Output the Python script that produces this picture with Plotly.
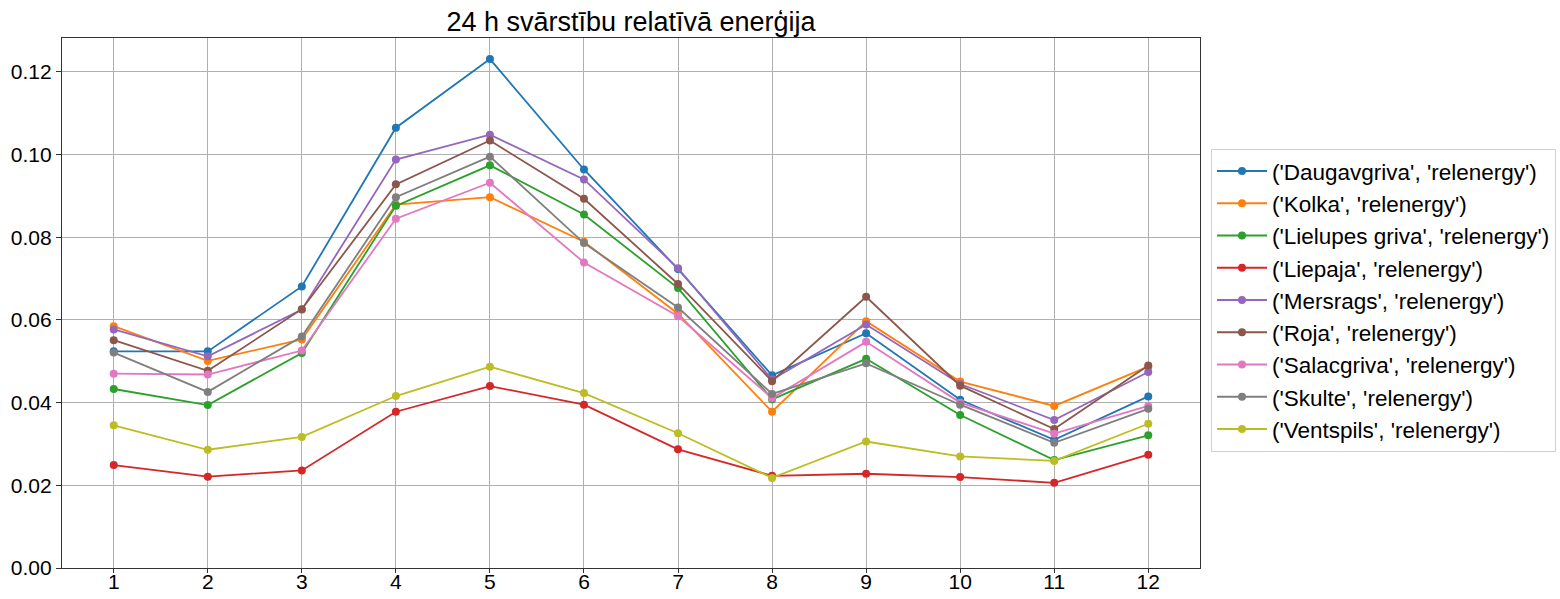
import plotly.graph_objects as go

months = list(range(1, 13))

stations = ["Daugavgriva", "Kolka", "Lielupes griva", "Liepaja", "Mersrags",
            "Roja", "Salacgriva", "Skulte", "Ventspils"]

daugavgriva = [0.0524, 0.0524, 0.0681, 0.1065, 0.1231, 0.0964, 0.0723, 0.0466, 0.0568, 0.0407, 0.0310, 0.0415]
kolka = [0.0585, 0.0501, 0.0553, 0.0879, 0.0897, 0.0789, 0.0615, 0.0378, 0.0597, 0.0451, 0.0392, 0.0487]
lielupes_griva = [0.0433, 0.0394, 0.0520, 0.0876, 0.0974, 0.0855, 0.0677, 0.0408, 0.0506, 0.0370, 0.0261, 0.0321]
liepaja = [0.0249, 0.0221, 0.0236, 0.0378, 0.0440, 0.0395, 0.0287, 0.0223, 0.0228, 0.0220, 0.0206, 0.0274]
mersrags = [0.0577, 0.0512, 0.0625, 0.0988, 0.1048, 0.0940, 0.0725, 0.0456, 0.0589, 0.0445, 0.0358, 0.0474]
roja = [0.0551, 0.0477, 0.0626, 0.0928, 0.1034, 0.0893, 0.0687, 0.0452, 0.0656, 0.0441, 0.0336, 0.0490]
salacgriva = [0.0470, 0.0468, 0.0526, 0.0845, 0.0932, 0.0739, 0.0609, 0.0411, 0.0547, 0.0400, 0.0325, 0.0392]
skulte = [0.0521, 0.0426, 0.0560, 0.0897, 0.0995, 0.0786, 0.0630, 0.0421, 0.0495, 0.0395, 0.0303, 0.0385]
ventspils = [0.0345, 0.0286, 0.0317, 0.0416, 0.0487, 0.0423, 0.0326, 0.0218, 0.0306, 0.0270, 0.0259, 0.0349]

series = [daugavgriva, kolka, lielupes_griva, liepaja, mersrags,
          roja, salacgriva, skulte, ventspils]

colors = ["#1f77b4", "#ff7f0e", "#2ca02c", "#d62728", "#9467bd",
          "#8c564b", "#e377c2", "#7f7f7f", "#bcbd22"]

y_ticks = [0.00, 0.02, 0.04, 0.06, 0.08, 0.10, 0.12]

fig = go.Figure()
for name, vals, col in zip(stations, series, colors):
    fig.add_trace(go.Scatter(
        x=months, y=vals, mode="lines+markers",
        name=f"('{name}', 'relenergy')",
        line=dict(color=col, width=1.8),
        marker=dict(color=col, size=8),
    ))

font_family = "Liberation Sans, Arial, sans-serif"

# paper spans from the left margin to the right edge of the page;
# the axes occupy the left part and the legend sits to their right
W, H = 1560, 599
ML = 62
paper_w = W - ML
plot_right = 1200
x_dom_end = (plot_right - ML) / paper_w

fig.update_layout(
    width=W, height=H,
    margin=dict(l=ML, r=0, t=38, b=31),
    paper_bgcolor="white", plot_bgcolor="white",
    font=dict(family=font_family, size=21, color="black"),
    title=dict(text="24 h svārstību relatīvā enerģija",
               x=(ML + plot_right) / 2 / W, xanchor="center",
               y=1 - 22 / H, yanchor="middle",
               font=dict(size=27, color="black")),
    showlegend=True,
    legend=dict(x=(1211 - ML) / paper_w, xanchor="left",
                y=0.505, yanchor="middle",
                bordercolor="#d0d0d0", borderwidth=1,
                font=dict(size=22.5, color="black"),
                itemwidth=50,
                bgcolor="white"),
)

fig.update_xaxes(
    domain=[0, x_dom_end],
    range=[0.45, 12.55], tickmode="array", tickvals=months,
    ticktext=[str(m) for m in months],
    showgrid=True, gridcolor="#b0b0b0", gridwidth=1,
    showline=True, linecolor="#333", linewidth=1.2, mirror=True,
    ticks="outside", ticklen=4, tickcolor="#333",
    ticklabelstandoff=-9,
    zeroline=False, automargin=False,
)
fig.update_yaxes(
    range=[0, 0.1282], tickmode="array", tickvals=y_ticks,
    ticktext=[f"{v:.2f}" for v in y_ticks],
    showgrid=True, gridcolor="#b0b0b0", gridwidth=1,
    showline=True, linecolor="#333", linewidth=1.2, mirror=True,
    ticks="outside", ticklen=5, tickcolor="#333",
    zeroline=False, automargin=False,
)

fig.write_html("out.html")
